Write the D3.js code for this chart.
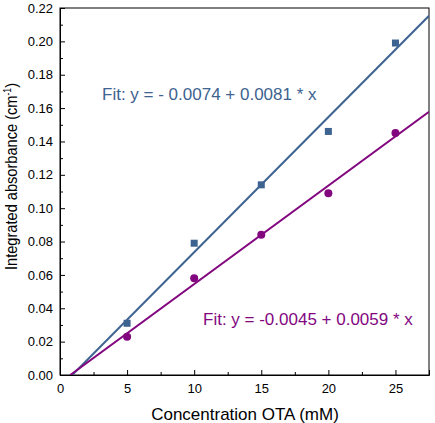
<!DOCTYPE html>
<html>
<head>
<meta charset="utf-8">
<script src="https://cdn.jsdelivr.net/npm/d3@7"></script>
<style>
  body { margin: 0; background: #fff; }
  text { font-family: Arial, "Liberation Sans", sans-serif; }
</style>
</head>
<body>
<div id="chart"></div>
<script>
// Data
const concentration = [5, 10, 15, 20, 25];
const seriesA = [0.031, 0.079, 0.114, 0.146, 0.199];   // squares
const seriesB = [0.023, 0.058, 0.084, 0.109, 0.145];   // circles
const fitA = { a: -0.0074, b: 0.0081, label: "Fit: y = - 0.0074 + 0.0081 * x" };
const fitB = { a: -0.0045, b: 0.0059, label: "Fit: y = -0.0045 + 0.0059 * x" };
const xTicks = [0, 5, 10, 15, 20, 25];
const yTicks = [0, 0.02, 0.04, 0.06, 0.08, 0.10, 0.12, 0.14, 0.16, 0.18, 0.20, 0.22];

const width = 435, height = 423;
const margin = { top: 8, right: 6, bottom: 48, left: 60 };

const blue = "#3d6390";
const purple = "#82077f";

const svg = d3.select("#chart")
    .append("svg")
    .attr("width", width)
    .attr("height", height);

const x = d3.scaleLinear()
    .domain([0, 27.5])
    .range([margin.left, width - margin.right]);

const y = d3.scaleLinear()
    .domain([0, 0.22])
    .range([height - margin.bottom, margin.top]);

svg.append("defs").append("clipPath")
    .attr("id", "plot-clip")
    .append("rect")
    .attr("x", x(0))
    .attr("y", y(0.22))
    .attr("width", x(27.5) - x(0))
    .attr("height", y(0) - y(0.22));

// Axes: ticks pointing inward
const xMinor = d3.range(2.5, 27.5, 5);
const yMinor = d3.range(0.01, 0.22, 0.02);

svg.append("g")
    .attr("transform", `translate(0, ${y(0)})`)
    .call(d3.axisBottom(x).tickValues(xTicks).tickSize(-5).tickPadding(9).tickFormat(d3.format("d")));

svg.append("g")
    .attr("transform", `translate(0, ${y(0)})`)
    .call(d3.axisBottom(x).tickValues(xMinor).tickSize(-3).tickFormat(""))
    .call(g => g.select(".domain").remove());

svg.append("g")
    .attr("transform", `translate(${x(0)}, 0)`)
    .call(d3.axisLeft(y).tickValues(yTicks).tickSize(-5).tickPadding(7).tickFormat(d3.format(".2f")));

svg.append("g")
    .attr("transform", `translate(${x(0)}, 0)`)
    .call(d3.axisLeft(y).tickValues(yMinor).tickSize(-3).tickFormat(""))
    .call(g => g.select(".domain").remove());

svg.selectAll(".tick text")
    .attr("font-size", "13px")
    .attr("font-family", "Arial, 'Liberation Sans', sans-serif")
    .attr("fill", "#000");

// frame
svg.append("rect")
    .attr("x", x(0))
    .attr("y", y(0.22))
    .attr("width", x(27.5) - x(0))
    .attr("height", y(0) - y(0.22))
    .attr("fill", "none")
    .attr("stroke", "#000")
    .attr("stroke-width", 1);

// Fit lines, from y = 0 to the right edge
function fitPoints(f) {
    const x0 = -f.a / f.b;
    return [[x0, 0], [27.5, f.a + f.b * 27.5]];
}

const line = d3.line()
    .x(d => x(d[0]))
    .y(d => y(d[1]));

const plot = svg.append("g").attr("clip-path", "url(#plot-clip)");

plot.append("path")
    .attr("d", line(fitPoints(fitA)))
    .attr("stroke", blue)
    .attr("stroke-width", 2)
    .attr("fill", "none");

plot.append("path")
    .attr("d", line(fitPoints(fitB)))
    .attr("stroke", purple)
    .attr("stroke-width", 2)
    .attr("fill", "none");

// Markers
const sq = 7;
plot.selectAll("rect.sq")
    .data(concentration)
    .enter()
    .append("rect")
    .attr("class", "sq")
    .attr("x", (d) => x(d) - sq / 2)
    .attr("y", (d, i) => y(seriesA[i]) - sq / 2)
    .attr("width", sq)
    .attr("height", sq)
    .attr("fill", blue);

plot.selectAll("circle.pt")
    .data(concentration)
    .enter()
    .append("circle")
    .attr("class", "pt")
    .attr("cx", d => x(d))
    .attr("cy", (d, i) => y(seriesB[i]))
    .attr("r", 4)
    .attr("fill", purple);

// Fit labels
svg.append("text")
    .attr("x", 102)
    .attr("y", 100)
    .attr("font-size", "17px")
    .attr("fill", blue)
    .text(fitA.label);

svg.append("text")
    .attr("x", 203)
    .attr("y", 325)
    .attr("font-size", "17px")
    .attr("fill", purple)
    .text(fitB.label);

// Axis titles
svg.append("text")
    .attr("x", 245)
    .attr("y", 420)
    .attr("text-anchor", "middle")
    .attr("font-size", "17px")
    .attr("fill", "#000")
    .text("Concentration OTA (mM)");

const yTitle = svg.append("text")
    .attr("transform", `translate(17, 176.5) rotate(-90)`)
    .attr("text-anchor", "middle")
    .attr("font-size", "17px")
    .attr("textLength", 187)
    .attr("lengthAdjust", "spacingAndGlyphs")
    .attr("fill", "#000");
yTitle.append("tspan").text("Integrated absorbance (cm");
yTitle.append("tspan").attr("dy", -6).attr("font-size", "10px").text("-1");
yTitle.append("tspan").attr("dy", 6).text(")");
</script>
</body>
</html>
